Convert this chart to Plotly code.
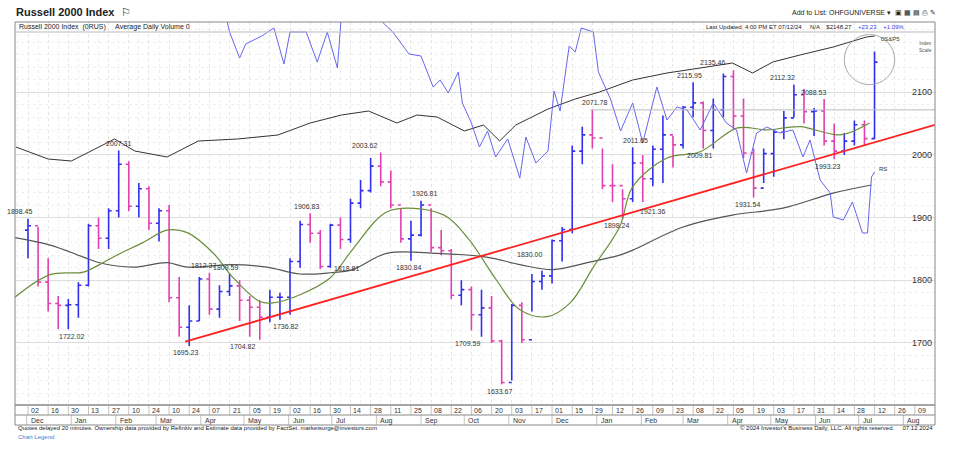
import plotly.graph_objects as go

# ---------------- data (weekly bars, x = weeks since Fri 2022-12-02) ----------------
week_close = [1887,1797,1763,1760,1761,1792,1887,1867,1911,1985,1918,1946,1891,1911,1772,1725,1735,1802,1754,1782,
              1791,1768,1757,1741,1773,1773,1830,1889,1875,1822,1888,1865,1923,1943,1982,1957,1920,1866,1872,1920,
              1852,1847,1776,1785,1745,1756,1703,1637,1760,1705,1798,1807,1863,1881,2006,2032,2027,1951,1951,1930,
              1987,1962,2009,2032,2016,2076,2083,2039,2072,2125,2062,2003,1947,2002,2036,2059,2096,2069,2070,2022,
              2006,2022,2048,2026,2148]
week_high = [1898,1885,1835,1775,1770,1797,1890,1900,1915,2007,1990,1955,1950,1915,1920,1805,1760,1805,1812,1792,
             1810,1800,1775,1768,1785,1780,1835,1895,1907,1880,1890,1900,1930,1960,1995,2004,1975,1915,1895,1927,
             1915,1880,1850,1800,1790,1785,1775,1705,1762,1765,1810,1815,1865,1885,2015,2045,2072,2010,1985,1945,
             2012,2000,2015,2063,2030,2078,2116,2085,2090,2130,2135,2090,2010,2010,2040,2070,2112,2105,2075,2089,
             2050,2035,2055,2055,2165]
week_low = [1835,1790,1750,1722,1722,1740,1790,1850,1850,1900,1910,1900,1880,1862,1765,1710,1695,1735,1745,1740,
            1775,1735,1710,1705,1733,1737,1745,1820,1860,1818,1820,1850,1860,1915,1940,1950,1915,1860,1831,1870,
            1845,1840,1770,1760,1720,1710,1700,1634,1640,1700,1750,1785,1795,1830,1875,1985,2010,1945,1925,1898,
            1925,1925,1950,1955,1980,2010,2060,2010,2010,2060,2040,1995,1932,1955,1965,2025,2060,2050,2030,2015,
            1993,2000,2015,2015,2025]
week_open = [1880] + week_close[:-1]

ma50_w = [-1.3,2.2,5.5,7.1,8.8,11.4,13.8,15.8,18.4,20.3,23.0,24.3,27.0,30.0,32.2,35.6,38.9,41.6,43.8,46.5,48.8,
          51.5,53.8,56.1,58.7,60.0,63.4,66.7,70.4,73.3,76.6,80.6,83.5]
ma50_v = [1773,1809,1813,1825,1840,1860,1880,1876,1843,1805,1766,1764,1777,1804,1849,1909,1914,1901,1864,1800,1753,
          1742,1764,1821,1885,1949,1995,2005,2043,2040,2045,2032,2051]
ma200_w = [-1.3,2.2,5.5,7.1,10.4,13.8,15.8,20.3,23.7,27.0,30.0,32.2,35.6,40.6,45.5,48.8,52.1,55.5,58.7,60.0,65.0,
           69.9,74.9,79.9,83.7]
ma200_v = [1868,1856,1837,1828,1821,1828,1821,1825,1821,1810,1812,1817,1843,1843,1837,1825,1817,1828,1840,1848,1885,
           1904,1915,1939,1952]

# relative lines on their own (hidden) scale
rs_w = [19.5,20.0,21.0,21.6,23.2,24.4,25.4,26.0,27.6,28.7,29.7,30.7,31.1,33.9,36.2,37.8,39.0,40.2,40.9,41.7,42.7,
        43.1,44.0,44.8,45.6,46.4,47.6,48.8,49.4,50.4,51.6,52.2,52.8,53.7,54.3,54.9,56.1,56.6,57.8,58.8,60.0,61.0,
        62.4,63.4,64.4,65.4,66.7,68.0,69.3,70.3,71.3,72.3,73.3,74.6,75.9,76.9,77.6,78.6,79.6,79.9,80.9,81.8,82.8,
        83.3,83.7,84.0]
rs_v = [395,373,347,361,369,377,341,373,373,343,373,337,390,395,373,351,349,318,325,312,333,302,282,258,274,248,
        266,227,268,242,254,314,294,359,353,377,373,333,306,274,302,262,318,285,298,295,275,302,282,275,232,272,
        278,272,275,248,265,225,212,188,185,203,172,172,228,233]
sp_w = [-1.2,2.0,4.3,8.6,10.6,13.8,16.9,20.8,24.8,28.0,31.1,33.8,36.6,38.6,40.6,43.3,45.2,46.8,48.4,51.6,54.3,56.7,
        60.0,63.4,66.7,69.9,71.9,73.9,76.6,79.9,83.2,84.0]
sp_v = [258,246,244,266,254,248,264,266,270,282,290,294,282,290,288,274,280,264,280,296,306,313,325,332,337,342,
        332,343,350,358,368,369]

trend_w = [15.6, 90.0]
trend_v = [1702, 2048]

tick_w = list(range(0, 90, 2))
tick_labels = ["02","16","30","13","27","10","24","10","24","07","21","05","19","02","16","30","14","28","11","25",
               "08","22","06","20","03","17","01","15","29","12","26","09","23","08","22","05","19","03","17","31",
               "14","28","12","26","09"]
month_w = [-0.14,4.29,8.71,12.71,17.14,21.43,25.86,30.14,34.57,39.0,43.29,47.71,52.0,56.43,60.86,65.0,69.43,
           73.71,78.14,82.43,86.86]
month_labels = ["Dec","Jan","Feb","Mar","Apr","May","Jun","Jul","Aug","Sep","Oct","Nov","Dec","Jan","Feb","Mar",
                "Apr","May","Jun","Jul","Aug"]

hl_labels = ["1898.45","1722.02","2007.31","1695.23","1812.37","1809.59","1704.82","1736.82","1906.83","1818.81",
             "2003.62","1830.84","1926.81","1709.59","1633.67","1830.00","2071.78","1898.24","2011.65","1921.36",
             "2115.95","2009.81","2135.46","1931.54","2112.32","2088.53","1993.23"]
hl_w = [-0.8,4.3,9.0,15.6,17.4,19.6,21.3,25.6,27.6,30.0,33.4,37.8,39.3,43.6,46.8,49.8,56.2,58.4,60.3,62.0,65.6,
        66.6,67.9,71.4,74.9,77.9,79.3]
hl_v = [1898.45,1722.02,2007.31,1695.23,1812.37,1809.59,1704.82,1736.82,1906.83,1818.81,2003.62,1830.84,1926.81,
        1709.59,1633.67,1830.00,2071.78,1898.24,2011.65,1921.36,2115.95,2009.81,2135.46,1931.54,2112.32,2088.53,
        1993.23]
hl_pos = ["a","b","a","b","a","a","b","b","a","r","a","b","a","b","b","a","a","b","a","b","a","b","a","b","a","a","b"]

XR = [-1.29, 90.0]
YR = [1601, 2212]
L, R, T, B = 15, 20, 22, 47
W, H = 955, 452

def px(pix):
    return (pix - L) / (W - L - R)

def py(pix):
    return 1 - (pix - T) / (H - T - B)

fig = go.Figure()
fig.add_trace(go.Scatter(x=sp_w, y=sp_v, yaxis="y2", mode="lines", line=dict(color="#333333", width=1), hoverinfo="skip"))
fig.add_trace(go.Scatter(x=rs_w, y=rs_v, yaxis="y2", mode="lines", line=dict(color="#6666ee", width=1), hoverinfo="skip"))
fig.add_trace(go.Scatter(x=ma200_w, y=ma200_v, mode="lines", line=dict(color="#555555", width=1.2, shape="spline")))
fig.add_trace(go.Scatter(x=ma50_w, y=ma50_v, mode="lines", line=dict(color="#6b8e3a", width=1.2, shape="spline")))
fig.add_trace(go.Scatter(x=trend_w, y=trend_v, mode="lines", line=dict(color="#ff2020", width=1.8)))
fig.add_trace(go.Ohlc(x=list(range(len(week_close))), open=week_open, high=week_high, low=week_low, close=week_close,
                      increasing=dict(line=dict(color="#3030ee", width=1.6)),
                      decreasing=dict(line=dict(color="#e040b0", width=1.6)), tickwidth=0.3))

ann = []
for t, w, v, p in zip(hl_labels, hl_w, hl_v, hl_pos):
    if p == "a":
        ann.append(dict(x=w, y=v, text=t, showarrow=False, yshift=7, font=dict(size=7, color="#333")))
    elif p == "b":
        ann.append(dict(x=w, y=v, text=t, showarrow=False, yshift=-7, font=dict(size=7, color="#333")))
    else:
        ann.append(dict(x=w, y=v, text=t, showarrow=False, xshift=16, font=dict(size=7, color="#333")))

for w, t in zip(tick_w, tick_labels):
    ann.append(dict(x=w, xref="x", y=py(405), yref="paper", yanchor="top", xanchor="left", text=t, showarrow=False,
                    font=dict(size=7, color="#333"), xshift=1))
for w, t in zip(month_w, month_labels):
    ann.append(dict(x=w, xref="x", y=py(415), yref="paper", xanchor="left", yanchor="top", text=t, showarrow=False,
                    font=dict(size=7, color="#333"), xshift=2))

texts = [
    dict(x=14, y=12, text="<b>Russell 2000 Index</b>  ⚐", size=11),
    dict(x=17, y=27, text="Russell 2000 Index  (0RUS)     Average Daily Volume 0", size=7),
    dict(x=16, y=428, text="Quotes delayed 20 minutes. Ownership data provided by Refinitiv and Estimate data provided by FactSet. marketsurge@investors.com", size=6),
    dict(x=16, y=437, text="<span style='color:#4a7bd0'>Chart Legend</span>", size=6),
]
for t in texts:
    ann.append(dict(x=px(t["x"]), y=py(t["y"]), xref="paper", yref="paper", xanchor="left",
                    yanchor="middle", text=t["text"], showarrow=False, font=dict(size=t["size"], color="#222")))
rtexts = [
    dict(x=938, y=13, text="Add to List: <span style='background:#eee'>OHFGUNIVERSE</span> ▾  ▣ ▦ ▤ ⎙ ✎", size=7),
    dict(x=906, y=27, text="Last Updated: 4:00 PM ET 07/12/24     N/A    $2148.27    <span style='color:#3a3aee'>+23.23    +1.09%</span>", size=6),
    dict(x=935, y=428, text="© 2024 Investor's Business Daily, LLC. All rights reserved.     07.12.2024", size=6),
]
for t in rtexts:
    ann.append(dict(x=px(t["x"]), y=py(t["y"]), xref="paper", yref="paper", xanchor="right",
                    yanchor="middle", text=t["text"], showarrow=False, font=dict(size=t["size"], color="#222")))
ann.append(dict(x=84.4, y=366, yref="y2", text="0S&P5", xanchor="left", showarrow=False, font=dict(size=6, color="#333")))
ann.append(dict(x=84.2, y=236, yref="y2", text="RS", xanchor="left", showarrow=False, font=dict(size=6, color="#333")))
ann.append(dict(x=px(925), y=py(38), xref="paper", yref="paper", text="Index<br>Scale", xanchor="center",
                showarrow=False, font=dict(size=5, color="#555")))

shapes = [
    dict(type="circle", x0=81.0, x1=86.0, y0=2112, y1=2192, line=dict(color="#aaaaaa", width=1)),
    dict(type="line", x0=55.8, x1=90, y0=2071.78, y1=2071.78, line=dict(color="#bbbbbb", width=1)),
    dict(type="rect", xref="paper", yref="paper", x0=0, x1=1, y0=0, y1=1, line=dict(color="#888", width=1)),
    dict(type="rect", xref="paper", yref="paper", x0=0, x1=1, y0=py(405), y1=py(425), line=dict(color="#888", width=1)),
    dict(type="line", xref="paper", yref="paper", x0=0, x1=1, y0=py(415), y1=py(415), line=dict(color="#888", width=1)),
    dict(type="line", xref="paper", yref="paper", x0=0, x1=1, y0=py(32), y1=py(32), line=dict(color="#bbb", width=1)),
]
for w in tick_w:
    shapes.append(dict(type="line", xref="x", yref="paper", x0=w, x1=w, y0=py(405), y1=py(415), line=dict(color="#999", width=0.6)))
for w in month_w:
    shapes.append(dict(type="line", xref="x", yref="paper", x0=w, x1=w, y0=py(415), y1=py(425), line=dict(color="#999", width=0.6)))

fig.update_layout(
    width=W, height=H, margin=dict(l=L, r=R, t=T, b=B),
    paper_bgcolor="white", plot_bgcolor="white", showlegend=False,
    font=dict(family="Liberation Sans, Arial", color="#333"),
    xaxis=dict(range=XR, showticklabels=False, rangeslider=dict(visible=False), zeroline=False,
               tickvals=tick_w, showgrid=True, gridcolor="#e6e6e6", griddash="dot",
               minor=dict(dtick=1, showgrid=True, gridcolor="#f0f0f0", griddash="dot")),
    yaxis=dict(range=YR, side="right", ticklabelposition="inside", tickvals=[1700, 1800, 1900, 2000, 2100],
               tickfont=dict(size=9, color="#333"), gridcolor="#dddddd", zeroline=False, ticks="",
               minor=dict(dtick=20, showgrid=True, gridcolor="#efefef", griddash="dot")),
    yaxis2=dict(range=[0, 383], overlaying="y", visible=False),
    annotations=ann, shapes=shapes,
)
fig.write_html("out.html", config={"displayModeBar": False},
               post_script="document.body.style.margin='0';")
